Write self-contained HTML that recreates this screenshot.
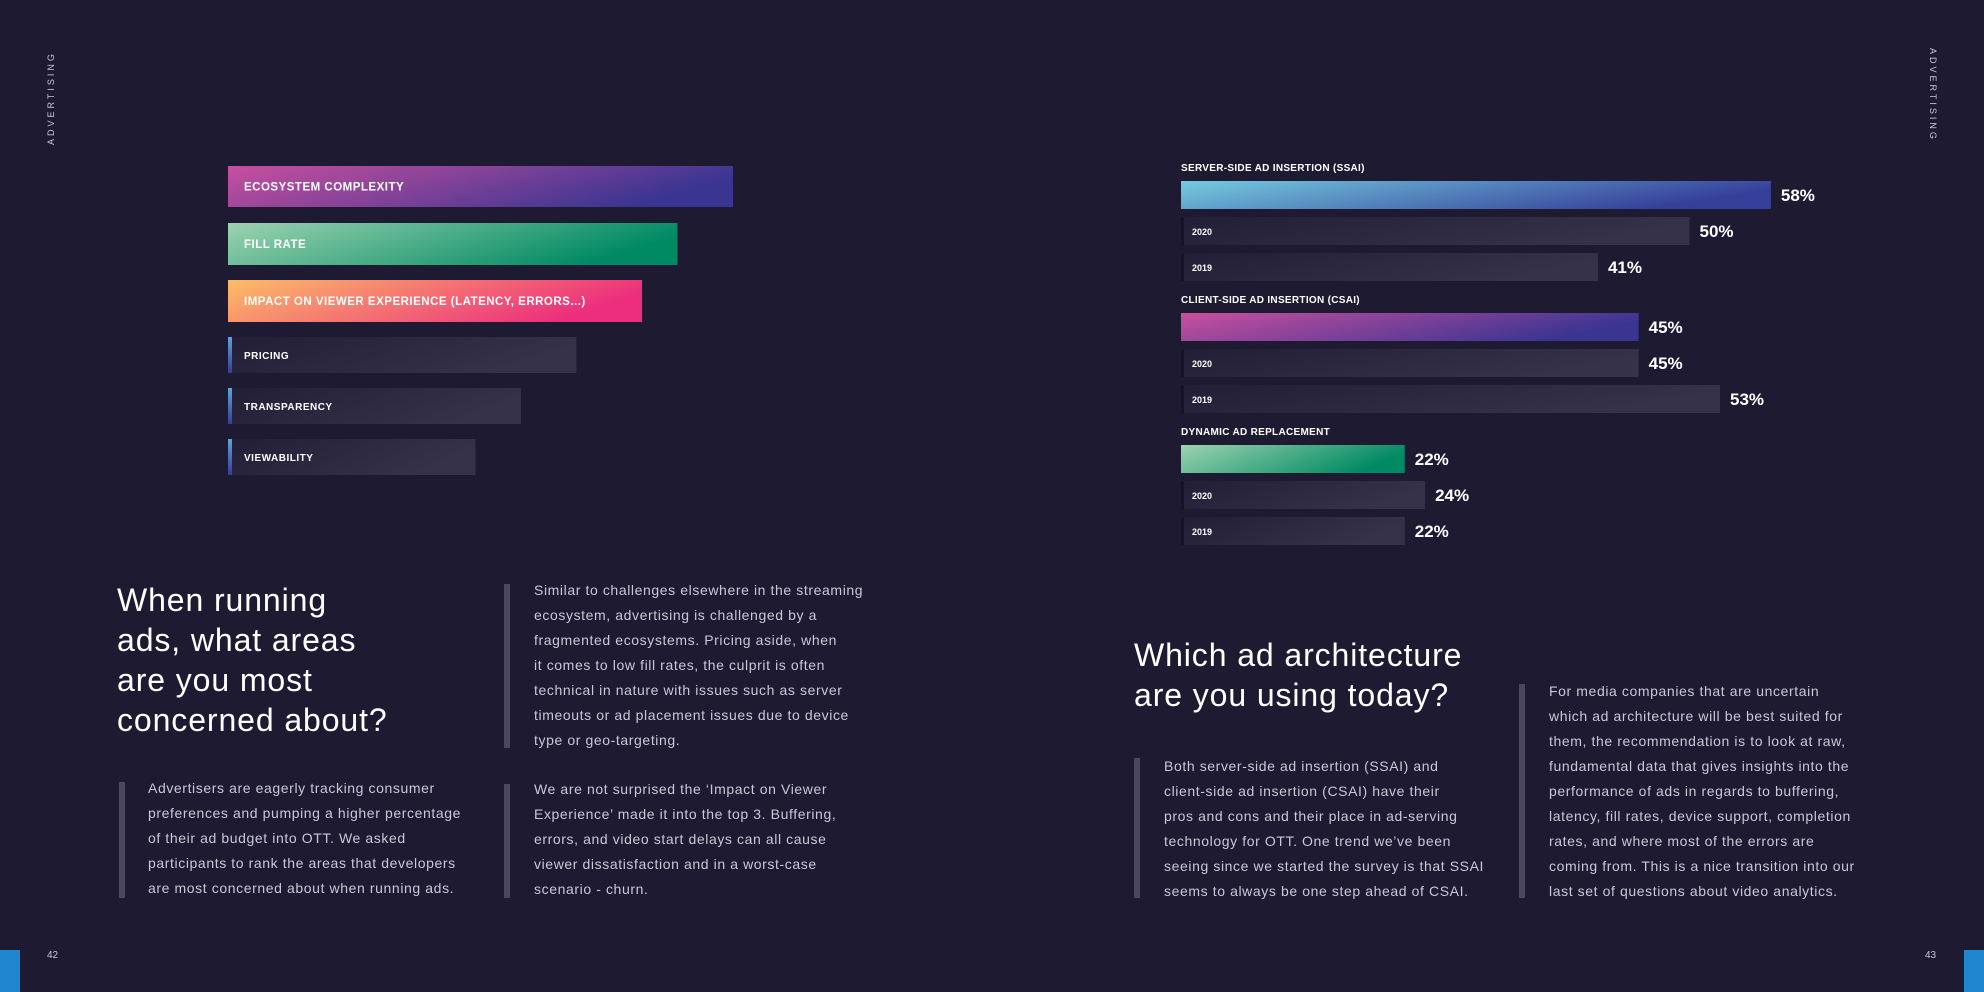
<!DOCTYPE html>
<html><head><meta charset="utf-8">
<style>
*{margin:0;padding:0;box-sizing:border-box}
body{width:1984px;height:992px;background:#1d1a32;position:relative;overflow:hidden;font-family:"Liberation Sans",sans-serif;color:#fff}
.abs{position:absolute}
.h{font-size:32px;line-height:40px;color:#fff;letter-spacing:0.9px}
.p{font-size:14px;line-height:25px;color:#c9c8d6;letter-spacing:0.6px;white-space:nowrap}
.vb{position:absolute;width:6px;background:#4a4760}
</style></head><body>
<div class="abs" style="transform:rotate(-90deg);transform-origin:0 0;font-size:9px;letter-spacing:3px;color:#c9c8d6;left:46px;top:145px">ADVERTISING</div>
<div class="abs" style="left:1938px;top:48px;transform:rotate(90deg);transform-origin:0 0;font-size:9px;letter-spacing:3px;color:#c9c8d6">ADVERTISING</div>
<div class="abs" style="left:0;top:950px;width:20px;height:42px;background:#1f87cf"></div>
<div class="abs" style="left:1964px;top:950px;width:20px;height:42px;background:#1f87cf"></div>
<div class="abs" style="left:47px;top:950px;font-size:10px;color:#c9c8d6">42</div>
<div class="abs" style="left:1925px;top:950px;font-size:10px;color:#c9c8d6">43</div>

<svg id="left-chart" class="abs" style="left:0;top:0" width="992" height="500"></svg>
<svg id="right-chart" class="abs" style="left:992px;top:0" width="992" height="580"></svg>

<div class="abs h" style="left:117px;top:580px">When running<br>ads, what areas<br>are you most<br>concerned about?</div>
<div class="vb" style="left:504px;top:584px;height:164px"></div>
<div class="abs p" style="left:534px;top:578px">Similar to challenges elsewhere in the streaming<br>ecosystem, advertising is challenged by a<br>fragmented ecosystems. Pricing aside, when<br>it comes to low fill rates, the culprit is often<br>technical in nature with issues such as server<br>timeouts or ad placement issues due to device<br>type or geo-targeting.</div>
<div class="vb" style="left:119px;top:782px;height:116px"></div>
<div class="abs p" style="left:148px;top:776px">Advertisers are eagerly tracking consumer<br>preferences and pumping a higher percentage<br>of their ad budget into OTT. We asked<br>participants to rank the areas that developers<br>are most concerned about when running ads.</div>
<div class="vb" style="left:504px;top:784px;height:114px"></div>
<div class="abs p" style="left:534px;top:777px">We are not surprised the ‘Impact on Viewer<br>Experience’ made it into the top 3. Buffering,<br>errors, and video start delays can all cause<br>viewer dissatisfaction and in a worst-case<br>scenario - churn.</div>

<div class="abs h" style="left:1134px;top:635px">Which ad architecture<br>are you using today?</div>
<div class="vb" style="left:1134px;top:758px;height:140px"></div>
<div class="abs p" style="left:1164px;top:754px">Both server-side ad insertion (SSAI) and<br>client-side ad insertion (CSAI) have their<br>pros and cons and their place in ad-serving<br>technology for OTT. One trend we’ve been<br>seeing since we started the survey is that SSAI<br>seems to always be one step ahead of CSAI.</div>
<div class="vb" style="left:1519px;top:684px;height:214px"></div>
<div class="abs p" style="left:1549px;top:679px">For media companies that are uncertain<br>which ad architecture will be best suited for<br>them, the recommendation is to look at raw,<br>fundamental data that gives insights into the<br>performance of ads in regards to buffering,<br>latency, fill rates, device support, completion<br>rates, and where most of the errors are<br>coming from. This is a nice transition into our<br>last set of questions about video analytics.</div>

<script>
const concernLabels=["ECOSYSTEM COMPLEXITY","FILL RATE","IMPACT ON VIEWER EXPERIENCE (LATENCY, ERRORS...)","PRICING","TRANSPARENCY","VIEWABILITY"];
const concernScores=[100,89,82,69,58,49];
const archGroups=["SERVER-SIDE AD INSERTION (SSAI)","CLIENT-SIDE AD INSERTION (CSAI)","DYNAMIC AD REPLACEMENT"];
const archCurrent=[58,45,22];
const arch2020=[50,45,24];
const arch2019=[41,53,22];
const yearLabels=["2020","2019"];

const NS="http://www.w3.org/2000/svg";
function mk(p,t,a){const e=document.createElementNS(NS,t);for(const k in a)e.setAttribute(k,a[k]);p.appendChild(e);return e;}
function grad(defs,id,c1,c2){const g=mk(defs,'linearGradient',{id:id,x1:0,y1:0,x2:1,y2:0.3});mk(g,'stop',{offset:0,'stop-color':c1});mk(g,'stop',{offset:1,'stop-color':c2});}

const L=document.getElementById('left-chart');
const ld=mk(L,'defs',{});
grad(ld,'gPurple','#c94f9f','#3a3591');
grad(ld,'gGreen','#9dd3b0','#008a63');
grad(ld,'gOrange','#fdbd68','#ec2e7c');
grad(ld,'gGray','#221e37','#363249');
const lb=mk(ld,'linearGradient',{id:'gMark',x1:0,y1:0,x2:0,y2:1});mk(lb,'stop',{offset:0,'stop-color':'#5aa6d8'});mk(lb,'stop',{offset:1,'stop-color':'#3b3a99'});
const lx=s=>s*5.05;
const lTops=[166,223,280,337,388,439], lH=[41,42,42,36,36,36];
const fills=['url(#gPurple)','url(#gGreen)','url(#gOrange)','url(#gGray)','url(#gGray)','url(#gGray)'];
concernScores.forEach((v,i)=>{
  const r=mk(L,'rect',{x:228,y:lTops[i],width:lx(v),height:lH[i],fill:fills[i]});
  
  
  if(i>2){const m=mk(L,'rect',{x:228,y:lTops[i],width:4,height:lH[i],fill:'url(#gMark)'});
    
    }
  const t=mk(L,'text',{x:244,y:lTops[i]+lH[i]/2+4,'font-size':i>2?10:11.5,'font-weight':'bold',fill:'#fff','font-family':'Liberation Sans','letter-spacing':'0.5'});
  t.textContent=concernLabels[i];
  
  
});

const R=document.getElementById('right-chart');
const rd=mk(R,'defs',{});
grad(rd,'gBlue','#74cce0','#36409a');
grad(rd,'gPurple2','#c94f9f','#3a3591');
grad(rd,'gGreen2','#9dd3b0','#008a63');
grad(rd,'gGray2','#221e37','#363249');
const rx=v=>v*10.17;
const ox=189;
const top0=[181,313,445];
const curFill=['url(#gBlue)','url(#gPurple2)','url(#gGreen2)'];
archGroups.forEach((g,i)=>{
  const t=mk(R,'text',{x:ox,y:top0[i]-10,'font-size':10,'font-weight':'bold',fill:'#fff','font-family':'Liberation Sans','letter-spacing':'0.3'});
  t.textContent=g;
  
  
  const vals=[archCurrent[i],arch2020[i],arch2019[i]];
  vals.forEach((v,j)=>{
    const y=top0[i]+j*36;
    const r=mk(R,'rect',{x:ox,y:y,width:rx(v),height:28,fill:j==0?curFill[i]:'url(#gGray2)'});
    
    
    if(j>0){
      const m=mk(R,'rect',{x:ox,y:y,width:3,height:28,fill:'#15132a'});
      
      
      const yl=mk(R,'text',{x:ox+11,y:y+18,'font-size':9,'font-weight':'bold',fill:'#fff','font-family':'Liberation Sans'});
      yl.textContent=yearLabels[j-1];
      
      
    }
    const vt=mk(R,'text',{x:ox+rx(v)+10,y:y+20,'font-size':17,'font-weight':'bold',fill:'#fff','font-family':'Liberation Sans'});
    vt.textContent=v+'%';
    
    
  });
});
</script>
</body></html>
